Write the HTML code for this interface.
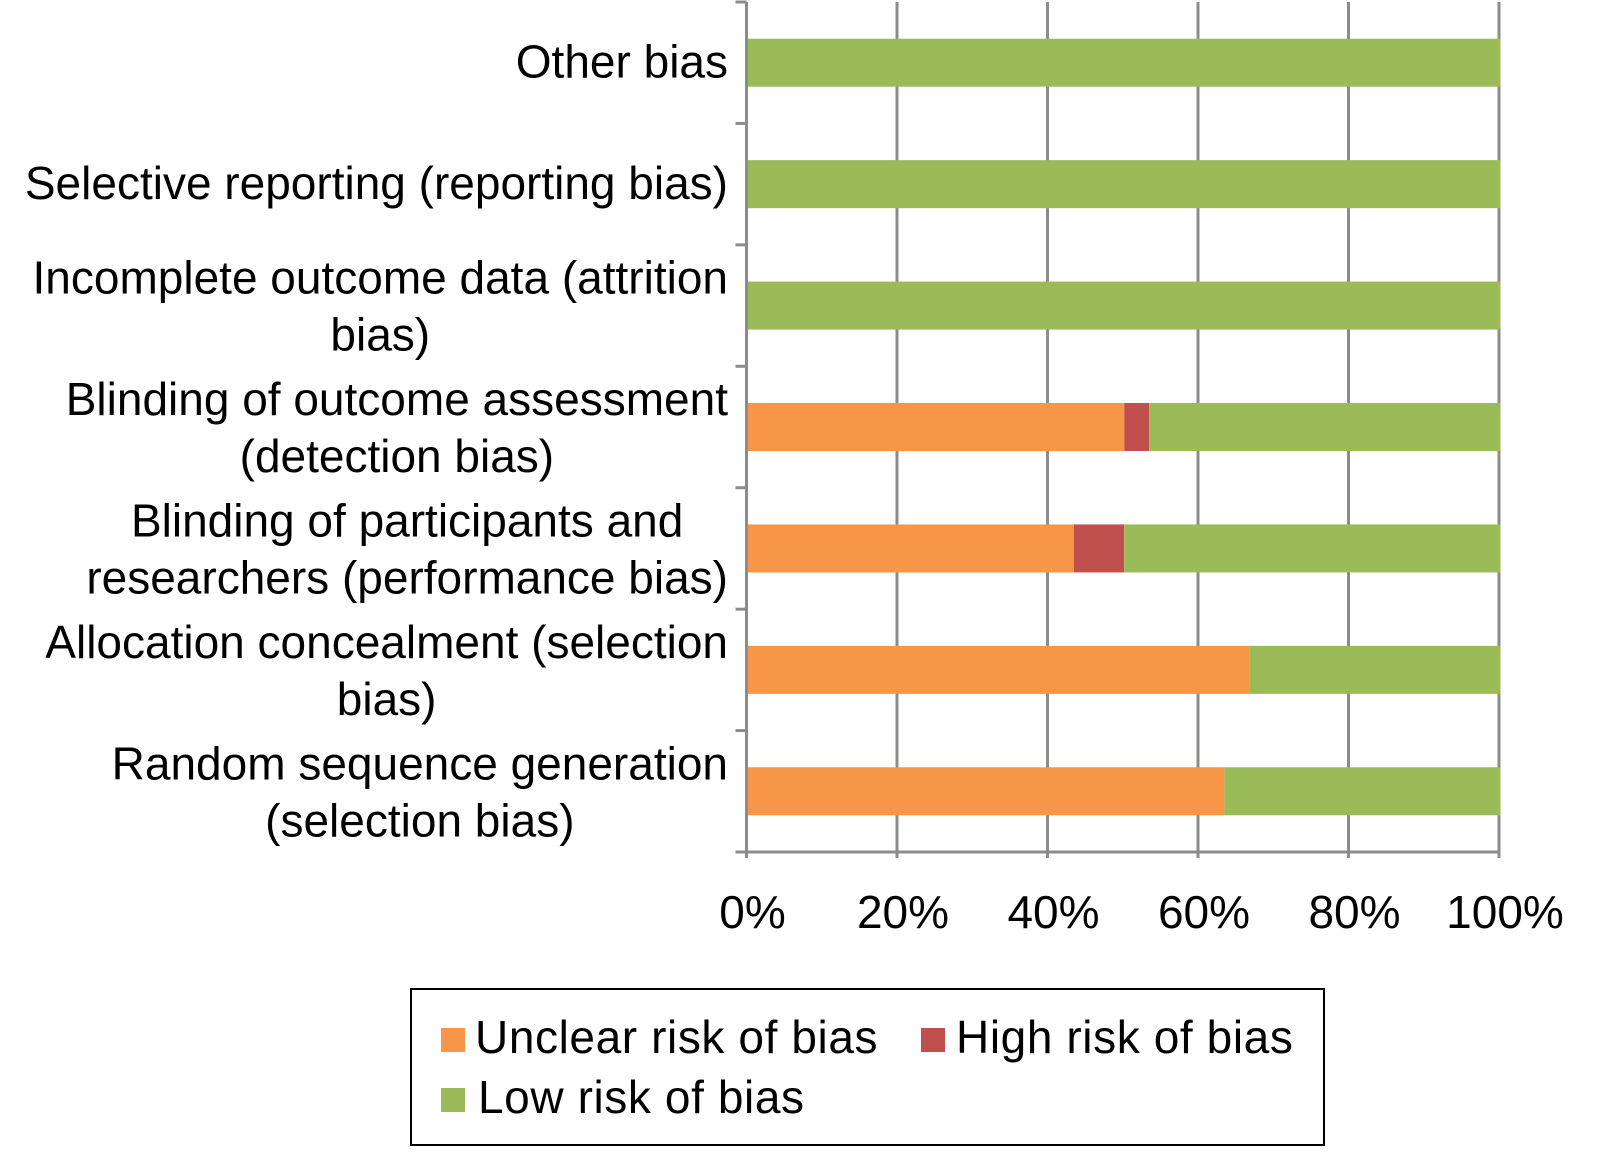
<!DOCTYPE html>
<html><head><meta charset="utf-8">
<style>
html,body{margin:0;padding:0;background:#fff;}
svg{display:block;font-family:"Liberation Sans",Arial,sans-serif;}
</style></head>
<body>
<svg id="chart" width="1601" height="1170" viewBox="0 0 1601 1170" xmlns="http://www.w3.org/2000/svg"></svg>
<script>
const categories = [
  ["Random sequence generation","(selection bias)"],
  ["Allocation concealment (selection","bias)"],
  ["Blinding of participants and","researchers (performance bias)"],
  ["Blinding of outcome assessment","(detection bias)"],
  ["Incomplete outcome data (attrition","bias)"],
  ["Selective reporting (reporting bias)"],
  ["Other bias"]
];
const unclearRisk = [63.3, 66.7, 43.3, 50, 0, 0, 0];
const highRisk = [0, 0, 6.7, 3.3, 0, 0, 0];
const lowRisk = [36.7, 33.3, 50, 46.7, 100, 100, 100];
const tickValues = [0, 20, 40, 60, 80, 100];
const tickLabels = ["0%","20%","40%","60%","80%","100%"];

const svg = document.getElementById('chart');
const NS = 'http://www.w3.org/2000/svg';
const x0 = 746.5, x1 = 1499, yTop = 2, yBot = 852;
const FS = 46;
const xs = v => x0 + (x1 - x0) * v / 100;
const n = categories.length;
const band = (yBot - yTop) / n;
const yc = i => yBot - band * (i + 0.5);
function mk(tag, attrs){const e=document.createElementNS(NS,tag);for(const k in attrs)e.setAttribute(k,attrs[k]);svg.appendChild(e);return e;}

tickValues.forEach((v,i)=>{
  if(v===0)return;
  const g=mk('line',{x1:xs(v),x2:xs(v),y1:yTop,y2:yBot+6,stroke:'#8c8c8c','stroke-width':3});
  
  
});
const series=[[unclearRisk,'#F79646','unclear'],[highRisk,'#C0504D','high'],[lowRisk,'#9BBB59','low']];
const labelGroups=[];
categories.forEach((c,i)=>{
  let acc=0;
  series.forEach(([arr,col,nm])=>{
    const v=arr[i];
    if(v>0){
      const r=mk('rect',{x:xs(acc)+1.5,y:yc(i)-24,width:xs(acc+v)-xs(acc),height:48,fill:col});
      
      
    }
    acc+=v;
  });
  const lh=57;
  const startY = c.length>1 ? yc(i)-12 : yc(i)+15;
  const grp=[];
  c.forEach((ln,j)=>{
    const t=mk('text',{x:728,y:startY+j*lh,'text-anchor':c.length>1?'middle':'end','font-size':FS,fill:'#000'});
    t.textContent=ln;
    
    
    grp.push(t);
  });
  labelGroups.push(grp);
});
labelGroups.forEach(group=>{
  if(group.length>1){
    const w=Math.max(...group.map(t=>t.getComputedTextLength()));
    group.forEach(t=>t.setAttribute('x',728-w/2));
  }
});
const ax=mk('line',{x1:x0,x2:x0,y1:yTop,y2:yBot+6,stroke:'#8c8c8c','stroke-width':3});

const bx=mk('line',{x1:x0,x2:x1,y1:yBot,y2:yBot,stroke:'#8c8c8c','stroke-width':3});

for(let i=0;i<=n;i++){
  const y=yBot-band*i;
  const t=mk('line',{x1:x0-11,x2:x0,y1:y,y2:y,stroke:'#8c8c8c','stroke-width':3});
  
}
tickValues.forEach((v,i)=>{
  const t=mk('text',{x:xs(v)+6,y:928,'text-anchor':'middle','font-size':FS,fill:'#000'});
  t.textContent=tickLabels[i];
  
});
const lg=mk('rect',{x:411,y:989,width:913,height:156,fill:'#fff',stroke:'#000','stroke-width':2});

[[441,1028,'#F79646','Unclear risk of bias',475],[921,1028,'#C0504D','High risk of bias',956],[441,1088,'#9BBB59','Low risk of bias',478]].forEach(([x,y,c,l,tx])=>{
  const s=mk('rect',{x:x,y:y,width:24,height:24,fill:c});
  
  const t=mk('text',{x:tx,y:y+25,'font-size':FS,fill:'#000','letter-spacing':'0.6'});
  t.textContent=l;
  
});
</script>
</body></html>
